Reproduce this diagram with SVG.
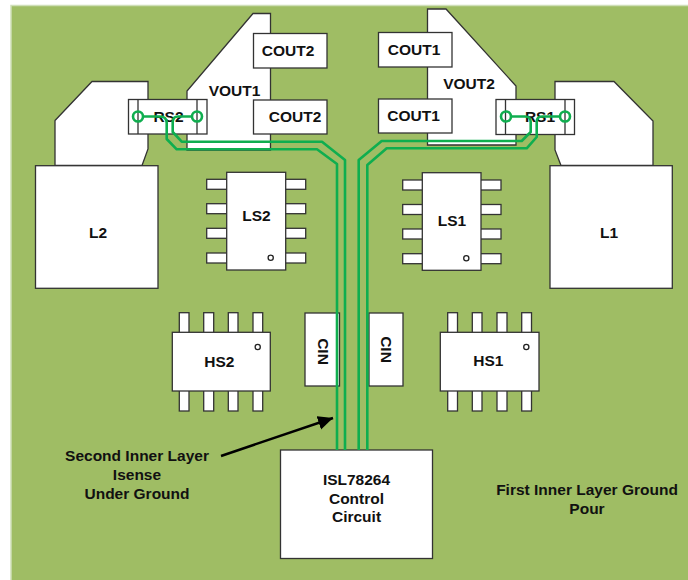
<svg xmlns="http://www.w3.org/2000/svg" width="688" height="580" viewBox="0 0 688 580">
<style>
.s{fill:#fff;stroke:#333;stroke-width:1.3}
.p{fill:#fff;stroke:#333;stroke-width:1.3}
.t{font-family:"Liberation Sans",Arial,sans-serif;font-weight:bold;font-size:15.500px;fill:#111;text-anchor:middle}
.tr{fill:none;stroke:#0fae4f;stroke-width:2.600;stroke-linejoin:round}
.d{fill:#fff;stroke:#222;stroke-width:1.300}
</style>
<defs>
<marker id="ah" markerUnits="userSpaceOnUse" markerWidth="17" markerHeight="15" refX="15" refY="7" orient="auto"><path d="M0 0L15 7L0 14Z" fill="#000"/></marker>
</defs>
<rect width="688" height="580" fill="#fff"/>
<rect id="board" x="11" y="5.500" width="678" height="576" fill="#9fbd64" stroke="#cfdfb8" stroke-width="1.500"/>
<g id="VOUT1"><path class="s" d="M253 13.500H270.500V150H187V91Z"/><text class="t" x="234.500" y="96">VOUT1</text></g>
<g id="VOUT2"><path class="s" d="M427.500 9H446L516 86V145H427.500Z"/><text class="t" x="469" y="89">VOUT2</text></g>
<g id="L2-pad"><path class="s" d="M55 120.500L92 81.500H148V149L142 165.500H55Z"/></g>
<g id="L1-pad"><path class="s" d="M555 81.500H614L653 121V165.500H561L555 150Z"/></g>
<g id="L2"><rect class="s" x="35.500" y="165.700" width="122.500" height="122.600"/><text class="t" x="98" y="238">L2</text></g>
<g id="L1"><rect class="s" x="550" y="165.700" width="122.300" height="122.600"/><text class="t" x="609" y="238">L1</text></g>
<g id="COUT2-top"><rect class="s" x="253.500" y="33.500" width="73.500" height="34.500"/><text class="t" x="288" y="55.500">COUT2</text></g>
<g id="COUT2-bottom"><rect class="s" x="253.500" y="100" width="73.500" height="34"/><text class="t" x="295" y="122">COUT2</text></g>
<g id="COUT1-top"><rect class="s" x="378.500" y="32.500" width="73.500" height="34.500"/><text class="t" x="414" y="55">COUT1</text></g>
<g id="COUT1-bottom"><rect class="s" x="378.500" y="99" width="73.500" height="34"/><text class="t" x="413.500" y="121">COUT1</text></g>
<g id="RS2"><rect class="s" x="128.500" y="99.500" width="78.500" height="34.500"/><path d="M138 99.500V134M197 99.500V134" class="s"/><text class="t" x="168.500" y="122">RS2</text></g>
<g id="RS1"><rect class="s" x="496" y="99.500" width="78.500" height="35"/><path d="M505.500 99.500V134.500M565 99.500V134.500" class="s"/><text class="t" x="540" y="122">RS1</text></g>
<g id="LS2">
<rect class="p" x="206.700" y="179.300" width="99" height="10"/><rect class="p" x="206.700" y="203.700" width="99" height="10"/><rect class="p" x="206.700" y="228.300" width="99" height="10"/><rect class="p" x="206.700" y="253" width="99" height="10"/>
<rect class="s" x="226.700" y="172.300" width="59" height="97.700"/><circle class="d" cx="270.700" cy="257.700" r="2.600"/><text class="t" x="256.500" y="220.500">LS2</text></g>
<g id="LS1">
<rect class="p" x="402.700" y="180" width="98.300" height="10"/><rect class="p" x="402.700" y="204.500" width="98.300" height="10"/><rect class="p" x="402.700" y="229" width="98.300" height="10"/><rect class="p" x="402.700" y="253.700" width="98.300" height="10"/>
<rect class="s" x="422.300" y="172.700" width="58.700" height="97.600"/><circle class="d" cx="466.300" cy="258.300" r="2.600"/><text class="t" x="452" y="225.500">LS1</text></g>
<g id="HS2">
<rect class="p" x="179.300" y="312.700" width="9.700" height="98.300"/><rect class="p" x="203.700" y="312.700" width="10" height="98.300"/><rect class="p" x="228.300" y="312.700" width="9.700" height="98.300"/><rect class="p" x="253" y="312.700" width="9.700" height="98.300"/>
<rect class="s" x="172.300" y="332.300" width="98" height="58.700"/><circle class="d" cx="257.700" cy="347" r="2.600"/><text class="t" x="219.300" y="367">HS2</text></g>
<g id="HS1">
<rect class="p" x="447.700" y="312.700" width="9.800" height="98.300"/><rect class="p" x="472.300" y="312.700" width="9.700" height="98.300"/><rect class="p" x="497" y="312.700" width="10" height="98.300"/><rect class="p" x="521.700" y="312.700" width="9.800" height="98.300"/>
<rect class="s" x="440.300" y="332.300" width="98.700" height="58.700"/><circle class="d" cx="526.300" cy="347" r="2.600"/><text class="t" x="488.300" y="365.500">HS1</text></g>
<g id="CIN-left"><rect class="s" x="305" y="313" width="34.500" height="73"/><text class="t" transform="translate(317.500 351.500) rotate(90)">CIN</text></g>
<g id="CIN-right"><rect class="s" x="369" y="313" width="34" height="73"/><text class="t" transform="translate(381 349.500) rotate(90)">CIN</text></g>
<g id="controller"><rect class="s" x="280.500" y="450" width="152" height="108.500"/>
<text class="t"><tspan x="356.500" y="485">ISL78264</tspan><tspan x="356.500" y="503.500">Control</tspan><tspan x="356.500" y="522">Circuit</tspan></text></g>
<g id="connectors">
<path class="tr" d="M143 116.500H160Q166.700 116.500 166.700 123V139L176.700 149.300H317L337 164V450"/>
<path class="tr" d="M192 116.500H178Q172.700 116.500 172.700 122V132L181.700 141.700H322L345 160V450"/>
<path class="tr" d="M358.700 450V160L381.700 141H521.700L530.700 132V122Q530.700 116.500 525 116.500H511"/>
<path class="tr" d="M367.300 450V165L386.700 148.300H526.700L536.700 137V122Q536.700 116.500 542 116.500H560"/>
<circle class="tr" cx="138" cy="116.500" r="5"/><circle class="tr" cx="197" cy="116.500" r="5"/>
<circle class="tr" cx="506" cy="116.500" r="5"/><circle class="tr" cx="565" cy="116.500" r="5"/>
<path d="M221 456L333 418" fill="none" stroke="#000" stroke-width="2.500" marker-end="url(#ah)"/>
</g>
<g id="labels">
<text class="t"><tspan x="137" y="461">Second Inner Layer</tspan><tspan x="137" y="480">Isense</tspan><tspan x="137" y="499">Under Ground</tspan></text>
<text class="t"><tspan x="587" y="495">First Inner Layer Ground</tspan><tspan x="587" y="514">Pour</tspan></text>
</g>
</svg>
